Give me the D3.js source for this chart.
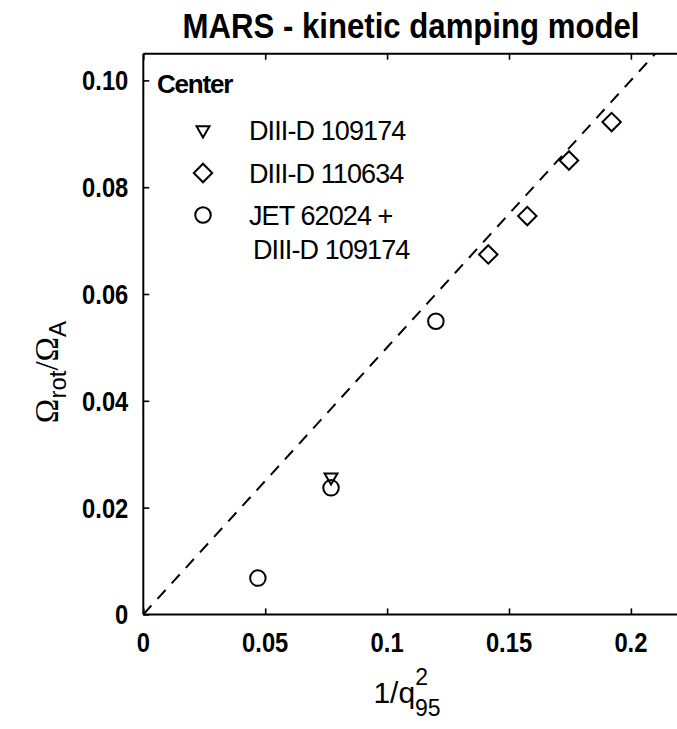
<!DOCTYPE html>
<html>
<head>
<meta charset="utf-8">
<script src="https://cdn.jsdelivr.net/npm/d3@7"></script>
<style>
  body { margin: 0; background: #fff; }
  svg { display: block; }
  .lbl { font-family: "Liberation Sans", Arial, Helvetica, sans-serif; fill: #000; }
</style>
</head>
<body>
<svg id="chart" width="677" height="729"></svg>
<script>
// Series: normalised rotation vs 1/q95^2
const diii109174_x = [0.077];
const diii109174_y = [0.0257];
const diii110634_x = [0.1415, 0.1575, 0.1746, 0.1921];
const diii110634_y = [0.0674, 0.0746, 0.0850, 0.0922];
const jet_x = [0.047, 0.077, 0.120];
const jet_y = [0.0068, 0.0237, 0.0549];
// Reference line  Omega_rot/Omega_A = slope * (1/q95^2)
const refSlope = 0.5;

const xTicks = [0, 0.05, 0.1, 0.15, 0.2];
const xTickLabels = ["0", "0.05", "0.1", "0.15", "0.2"];
const yTicks = [0, 0.02, 0.04, 0.06, 0.08, 0.10];
const yTickLabels = ["0", "0.02", "0.04", "0.06", "0.08", "0.10"];

const legendTitle = "Center";
const legendItems = [
  { sym: "tri", lines: ["DIII-D 109174"] },
  { sym: "dia", lines: ["DIII-D 110634"] },
  { sym: "circ", lines: ["JET 62024 +", "DIII-D 109174"] }
];

const svg = d3.select("#chart");
const pLeft = 143.3, pTop = 53.7, pBottom = 614.4;
const x = d3.scaleLinear().domain([0, 0.224]).range([pLeft, pLeft + 0.224 * 2438]);
const y = d3.scaleLinear().domain([0, 0.105]).range([pBottom, pTop]);
const xMax = x.domain()[1];

// narrow-set text helper (horizontal squeeze around the anchor point)
function narrowText(g, px, py, str, size, sx, anchor, weight) {
  return g.append("text").attr("class", "lbl")
    .attr("transform", `translate(${px},${py}) scale(${sx},1)`)
    .attr("text-anchor", anchor).attr("font-size", size)
    .attr("font-weight", weight || "normal").text(str);
}

const clipId = "plotclip";
svg.append("clipPath").attr("id", clipId)
  .append("rect").attr("x", pLeft).attr("y", pTop)
  .attr("width", x(xMax) - pLeft).attr("height", pBottom - pTop);

// Frame: left, bottom and top edges (right side runs off the page)
const frame = svg.append("g").attr("fill", "none").attr("stroke", "#000").attr("stroke-width", 2);
frame.append("line").attr("x1", pLeft).attr("x2", pLeft).attr("y1", pTop).attr("y2", pBottom);
frame.append("line").attr("x1", pLeft).attr("x2", x(xMax)).attr("y1", pBottom).attr("y2", pBottom);
frame.append("line").attr("x1", pLeft).attr("x2", x(xMax)).attr("y1", pTop).attr("y2", pTop);

// Inward ticks via d3 axes
const tickLen = 6;
const xAxisB = d3.axisTop(x).tickValues(xTicks).tickSize(tickLen).tickFormat("");
const xAxisT = d3.axisBottom(x).tickValues(xTicks).tickSize(tickLen).tickFormat("");
const yAxisL = d3.axisRight(y).tickValues(yTicks).tickSize(tickLen).tickFormat("");
function styleAxis(g) {
  g.select(".domain").remove();
  g.selectAll(".tick line").attr("stroke", "#000").attr("stroke-width", 1.6);
}
svg.append("g").attr("transform", `translate(0,${pBottom})`).call(xAxisB).call(styleAxis);
svg.append("g").attr("transform", `translate(0,${pTop})`).call(xAxisT).call(styleAxis);
svg.append("g").attr("transform", `translate(${pLeft},0)`).call(yAxisL).call(styleAxis);

// Tick labels
const tl = svg.append("g");
xTicks.forEach((d, i) => narrowText(tl, x(d), pBottom + 38, xTickLabels[i], 27, 0.88, "middle", "bold"));
yTicks.forEach((d, i) => narrowText(tl, pLeft - 15, y(d) + 10, yTickLabels[i], 27, 0.88, "end", "bold"));

// Title
narrowText(svg, 411, 38, "MARS - kinetic damping model", 35, 0.89, "middle", "bold");

// Axis titles
const xl = svg.append("text").attr("class", "lbl")
  .attr("x", 407).attr("y", 703).attr("text-anchor", "middle")
  .attr("font-size", 30);
xl.append("tspan").text("1/q");
xl.append("tspan").attr("font-size", 23).attr("dy", -18).text("2");
xl.append("tspan").attr("font-size", 23).attr("dy", 31).attr("dx", -13).text("95");

const yl = svg.append("text")
  .attr("transform", "translate(58,372) rotate(-90)")
  .attr("text-anchor", "middle")
  .attr("font-family", "'Liberation Serif', 'DejaVu Serif', serif")
  .attr("font-size", 33).attr("fill", "#000");
yl.append("tspan").text("Ω");
yl.append("tspan").attr("font-family", "'Liberation Sans', sans-serif")
  .attr("font-size", 24).attr("dy", 8).text("rot");
yl.append("tspan").attr("dy", -8).text("/Ω");
yl.append("tspan").attr("font-family", "'Liberation Sans', sans-serif")
  .attr("font-size", 24).attr("dy", 8).text("A");

// Reference dashed line
const plot = svg.append("g").attr("clip-path", `url(#${clipId})`);
const lineX = [0, xMax];
plot.append("path")
  .attr("d", d3.line().x(d => x(d)).y(d => y(refSlope * d))(lineX))
  .attr("fill", "none").attr("stroke", "#000").attr("stroke-width", 2)
  .attr("stroke-dasharray", "12,9");

// Markers
const sym = {
  tri: d3.symbol().type(d3.symbolTriangle).size(72),
  dia: d3.symbol().type(d3.symbolSquare).size(170),
  circ: d3.symbol().type(d3.symbolCircle).size(190)
};
function marker(g, type, px, py) {
  const t = type === "tri" ? `translate(${px},${py}) rotate(180)`
    : type === "dia" ? `translate(${px},${py}) rotate(45)`
    : `translate(${px},${py})`;
  g.append("path").attr("d", sym[type]()).attr("transform", t)
    .attr("fill", "none").attr("stroke", "#000").attr("stroke-width", 2);
}
const pts = svg.append("g");
diii109174_x.forEach((v, i) => marker(pts, "tri", x(v), y(diii109174_y[i])));
diii110634_x.forEach((v, i) => marker(pts, "dia", x(v), y(diii110634_y[i])));
jet_x.forEach((v, i) => marker(pts, "circ", x(v), y(jet_y[i])));

// Legend
const lg = svg.append("g");
lg.append("text").attr("class", "lbl").attr("x", 157).attr("y", 93)
  .attr("font-size", 26).attr("font-weight", "bold").attr("letter-spacing", -1.2).text(legendTitle);
const rowY = [130, 173, 215];
legendItems.forEach((it, i) => {
  marker(lg, it.sym, 203, rowY[i]);
  it.lines.forEach((ln, j) => {
    lg.append("text").attr("class", "lbl").attr("x", 249 + (j > 0 ? 4 : 0)).attr("y", rowY[i] + 10 + j * 34)
      .attr("font-size", 27).attr("letter-spacing", -0.9).text(ln);
  });
});
</script>
</body>
</html>
